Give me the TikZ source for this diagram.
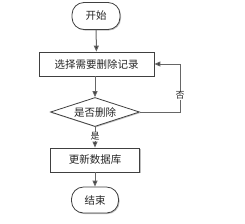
\documentclass[tikz,border=0pt]{standalone}
\usepackage{fontspec}
\newfontfamily\cjk{Noto Sans CJK SC}
\usetikzlibrary{shapes.geometric,arrows.meta,positioning,shadows}
\begin{document}
\begin{tikzpicture}[x=1pt,y=-1pt,
  every node/.style={font=\cjk\fontsize{10.5}{12}\selectfont, text=black!85},
  base/.style={draw=black!75, line width=0.8pt, fill=white, inner sep=0pt,
     drop shadow={shadow xshift=1pt, shadow yshift=-1pt, fill=black!25, opacity=1}},
  term/.style={base, rounded corners=12pt, minimum width=48pt, minimum height=27pt},
  proc/.style={base, minimum height=24pt},
  dec/.style={base, diamond, aspect=3.1, minimum width=89pt, minimum height=29pt},
  conn/.style={draw=black!60, line width=1pt, -{Triangle[length=6pt,width=5pt,fill=black!80]}},
  lbl/.style={font=\cjk\fontsize{9}{10}\selectfont, fill=white, inner sep=0.5pt}]
\useasboundingbox (0,0) rectangle (245,223);
\node[term] (start) at (96,16) {开始};
\node[proc, minimum width=115pt] (sel) at (96.5,64) {选择需要删除记录};
\node[dec] (ask) at (95,112) {是否删除};
\node[proc, minimum width=89pt] (upd) at (95,160) {更新数据库};
\node[term, minimum width=47pt, minimum height=26pt] (end) at (95,200) {结束};
\coordinate (c1) at (180,112);
\coordinate (c2) at (180,64);
\draw[conn] (start) -- (sel);
\draw[conn] (sel.south -| ask.north) -- (ask);
\draw[conn] (ask) -- node[lbl, pos=0.45] {是} (upd);
\draw[conn] (upd) -- (end);
\draw[conn] (ask.east) -- (c1) -- node[lbl, pos=0.35] {否} (c2) -- (sel.east);
\end{tikzpicture}
\end{document}
